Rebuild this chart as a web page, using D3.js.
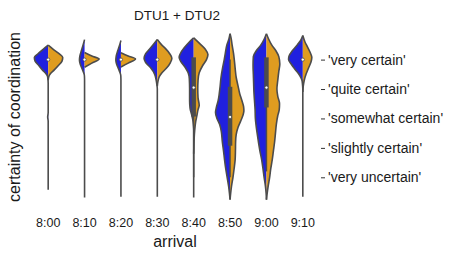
<!DOCTYPE html>
<html><head><meta charset="utf-8">
<script src="https://cdn.jsdelivr.net/npm/d3@7"></script>
<style>
body{margin:0;background:#fff}
text{font-family:"Liberation Sans",Arial,sans-serif;fill:#1a1a1a}
</style>
</head><body><svg id="c" width="459" height="262"></svg>
<script>
// ---- data ----
const arrivals = ["8:00","8:10","8:20","8:30","8:40","8:50","9:00","9:10"];
const levelValues = [5,4,3,2,1];
const levelLabels = ["'very certain'","'quite certain'","'somewhat certain'","'slightly certain'","'very uncertain'"];
const seriesNames = ["DTU1","DTU2"];
const seriesColors = ["#2020df","#df9c20"];

// density profiles [certainty value, relative half-width]
const dtu1Density = [
  [[5.49,0],[5.35,0.35],[5.2,0.7],[5.07,0.95],[4.95,0.9],[4.8,0.65],[4.65,0.4],[4.52,0.15],[4.42,0.04],[4.2,0],[3.2,0],[3.05,0.035],[2.9,0],[0.58,0]],
  [[5.68,0],[5.5,0.1],[5.3,0.22],[5.1,0.33],[4.98,0.35],[4.85,0.3],[4.7,0.18],[4.55,0.06],[4.45,0.01],[4.3,0],[0.31,0]],
  [[5.65,0],[5.48,0.1],[5.3,0.22],[5.1,0.33],[4.98,0.35],[4.85,0.3],[4.7,0.18],[4.55,0.06],[4.45,0.01],[4.3,0],[0.34,0]],
  [[5.68,0],[5.5,0.3],[5.38,0.5],[5.2,0.8],[5.05,0.91],[4.9,0.8],[4.72,0.46],[4.5,0.18],[4.3,0.08],[4.15,0.03],[4.0,0],[0.34,0]],
  [[5.74,0],[5.6,0.3],[5.4,0.65],[5.2,0.92],[5.08,1.0],[4.95,0.9],[4.75,0.6],[4.55,0.38],[4.35,0.3],[4.0,0.28],[3.6,0.28],[3.35,0.25],[3.15,0.15],[2.95,0.06],[2.75,0.02],[2.6,0],[0.31,0]],
  [[5.88,0],[5.7,0.08],[5.5,0.22],[5.2,0.33],[5.0,0.4],[4.7,0.52],[4.4,0.62],[4.1,0.68],[3.85,0.74],[3.6,0.82],[3.4,0.93],[3.2,1.0],[3.0,0.9],[2.8,0.72],[2.55,0.6],[2.2,0.53],[1.9,0.45],[1.6,0.38],[1.3,0.3],[1.0,0.2],[0.7,0.1],[0.45,0.04],[0.24,0]],
  [[5.88,0],[5.7,0.15],[5.5,0.38],[5.3,0.7],[5.1,0.9],[4.8,0.92],[4.5,0.9],[4.2,0.88],[3.9,0.86],[3.6,0.82],[3.3,0.78],[3.0,0.76],[2.8,0.72],[2.5,0.64],[2.2,0.55],[1.9,0.45],[1.6,0.33],[1.3,0.24],[1.0,0.16],[0.7,0.07],[0.45,0.02],[0.24,0]],
  [[5.82,0],[5.65,0.15],[5.5,0.38],[5.3,0.72],[5.12,0.95],[5.0,0.98],[4.85,0.8],[4.65,0.5],[4.45,0.2],[4.3,0.06],[4.15,0.02],[4.0,0],[0.34,0]]
];
const dtu2Density = [
  [[5.49,0],[5.35,0.35],[5.2,0.75],[5.07,1.0],[4.95,0.95],[4.8,0.7],[4.65,0.42],[4.52,0.15],[4.42,0.04],[4.3,0]],
  [[5.24,0],[5.12,0.5],[5.02,1.0],[4.88,0.5],[4.74,0]],
  [[5.23,0],[5.12,0.5],[5.02,1.0],[4.88,0.5],[4.75,0]],
  [[5.68,0],[5.5,0.3],[5.38,0.55],[5.2,0.85],[5.05,1.0],[4.9,0.9],[4.72,0.65],[4.55,0.32],[4.4,0.12],[4.25,0.04],[4.1,0]],
  [[5.74,0],[5.55,0.4],[5.35,0.8],[5.17,0.98],[5.0,0.88],[4.8,0.62],[4.55,0.38],[4.3,0.3],[4.0,0.28],[3.7,0.3],[3.45,0.38],[3.3,0.3],[3.1,0.22],[2.9,0.14],[2.6,0.07],[2.3,0.03],[2.0,0.01],[1.8,0]],
  [[5.88,0],[5.7,0.08],[5.5,0.14],[5.2,0.24],[5.0,0.29],[4.7,0.35],[4.4,0.42],[4.1,0.55],[3.85,0.66],[3.6,0.82],[3.4,0.93],[3.25,0.95],[3.1,0.88],[2.9,0.72],[2.7,0.55],[2.45,0.42],[2.2,0.38],[1.9,0.37],[1.6,0.35],[1.3,0.28],[1.0,0.2],[0.7,0.1],[0.45,0.04],[0.24,0]],
  [[5.88,0],[5.7,0.15],[5.5,0.36],[5.3,0.65],[5.1,0.85],[4.85,0.92],[4.6,0.85],[4.3,0.78],[4.0,0.72],[3.75,0.78],[3.5,0.9],[3.3,0.88],[3.1,0.78],[2.8,0.68],[2.5,0.62],[2.2,0.56],[1.9,0.48],[1.6,0.4],[1.3,0.3],[1.0,0.22],[0.7,0.12],[0.45,0.05],[0.24,0]],
  [[5.82,0],[5.6,0.15],[5.45,0.3],[5.25,0.5],[5.07,0.62],[4.9,0.55],[4.7,0.38],[4.5,0.22],[4.3,0.1],[4.1,0.03],[3.9,0]]
];

// inner box statistics (combined)
const boxQ1      = [5,5,5,5,3.14,2.15,3.45,5];
const boxMedian  = [5,5,5,5,4.05,3.05,4.05,5];
const boxQ3      = [5,5,5,5,5,4.0,5,5];
const whiskerLow = [5,5,5,5,1,1,1.2,5];
const whiskerHigh= [5,5,5,5,5,5,5,5];

// ---- drawing ----
const svg = d3.select("#c");
const gray = "#4c4c4c";
const x = d3.scaleBand().domain(arrivals).range([30,321]).padding(0);
const y = d3.scaleLinear().domain([1,5]).range([177.3,59.6]);
const w = d3.scaleLinear().domain([0,1]).range([0, x.bandwidth()*0.4]);

const densities = [dtu1Density, dtu2Density];
const plot = svg.append("g");

arrivals.forEach((a,i)=>{
  const cx = x(a) + x.bandwidth()/2;
  densities.forEach((dens,s)=>{
    const sign = s===0 ? -1 : 1;
    const area = d3.area().curve(d3.curveMonotoneY)
      .y(d=>y(d[0])).x0(cx).x1(d=>cx + sign*w(d[1]));
    plot.append("path").attr("d", area(dens[i])).attr("fill", seriesColors[s]).attr("stroke","none");
  });
  densities.forEach((dens,s)=>{
    const sign = s===0 ? -1 : 1;
    const line = d3.line().curve(d3.curveMonotoneY)
      .y(d=>y(d[0])).x(d=>cx + sign*w(d[1]));
    plot.append("path").attr("d", line(dens[i])).attr("fill","none")
      .attr("stroke", gray).attr("stroke-width",1.6).attr("stroke-linejoin","round");
  });
  if (whiskerHigh[i] > whiskerLow[i]) {
    plot.append("line").attr("x1",cx).attr("x2",cx)
      .attr("y1",y(whiskerLow[i])).attr("y2",y(whiskerHigh[i]))
      .attr("stroke",gray).attr("stroke-width",1.5);
  }
  if (boxQ3[i] > boxQ1[i]) {
    plot.append("line").attr("x1",cx).attr("x2",cx)
      .attr("y1",y(boxQ1[i])).attr("y2",y(boxQ3[i]))
      .attr("stroke",gray).attr("stroke-width",4.5).attr("stroke-linecap","square");
  }
  plot.append("circle").attr("cx",cx).attr("cy",y(boxMedian[i])).attr("r",1.6)
    .attr("fill","#fff").attr("stroke",gray).attr("stroke-width",0.8);
});

// right axis with certainty labels
const ya = svg.append("g").attr("transform","translate(321,0)")
  .call(d3.axisRight(y).tickValues(levelValues).tickFormat((d,i)=>levelLabels[i]).tickSize(4).tickPadding(3));
ya.select(".domain").remove();
ya.selectAll("line").attr("stroke","#333");
ya.selectAll("text").style("font-family","'Liberation Sans',Arial,sans-serif").style("font-size","14px").attr("fill","#1a1a1a");

// bottom axis labels
const xa = svg.append("g").attr("transform","translate(0,210)")
  .call(d3.axisBottom(x).tickSize(0).tickPadding(8.6));
xa.select(".domain").remove();
xa.selectAll("text").style("font-family","'Liberation Sans',Arial,sans-serif").style("font-size","12.5px").attr("fill","#1a1a1a");

// titles
svg.append("text").attr("x",177).attr("y",20).attr("text-anchor","middle")
  .style("font-size","13.5px").text("DTU1 + DTU2");
svg.append("text").attr("x",175).attr("y",246.5).attr("text-anchor","middle")
  .style("font-size","16px").text("arrival");
svg.append("text").attr("transform","translate(20,117) rotate(-90)").attr("text-anchor","middle")
  .style("font-size","16px").text("certainty of coordination");
</script>
</body></html>
